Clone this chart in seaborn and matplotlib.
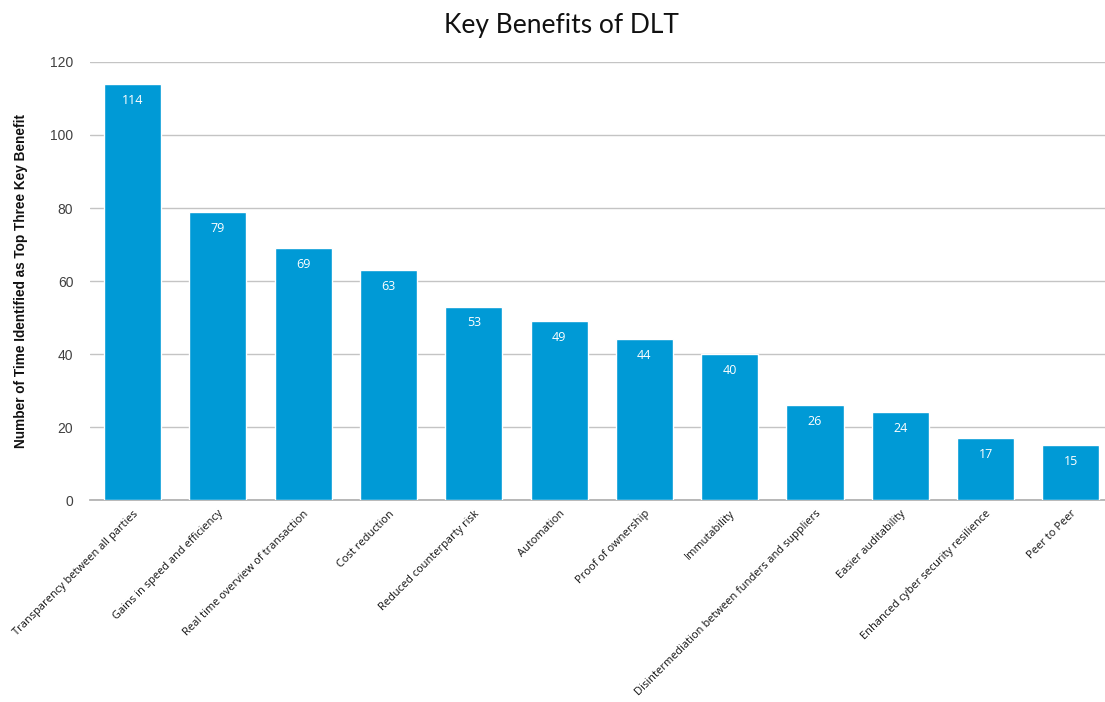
import numpy as np
import pandas as pd
import matplotlib
matplotlib.use("Agg")
import matplotlib.pyplot as plt
import seaborn as sns

benefits = [
    "Transparency between all parties",
    "Gains in speed and efficiency",
    "Real time overview of transaction",
    "Cost reduction",
    "Reduced counterparty risk",
    "Automation",
    "Proof of ownership",
    "Immutability",
    "Disintermediation between funders and suppliers",
    "Easier auditability",
    "Enhanced cyber security resilience",
    "Peer to Peer",
]
counts = [114, 79, 69, 63, 53, 49, 44, 40, 26, 24, 17, 15]
y_ticks = [0, 20, 40, 60, 80, 100, 120]

df = pd.DataFrame({"benefit": benefits, "count": counts})

sns.set_theme(style="white")
plt.rcParams["font.family"] = ["Liberation Sans", "DejaVu Sans"]

fig = plt.figure(figsize=(11.05, 7.02), dpi=100)
ax = fig.add_axes([0.0814, 0.2877, 0.9186, 0.624])

sns.barplot(data=df, x="benefit", y="count", color="#009ad6", width=0.67,
            saturation=1, ax=ax, zorder=3)

ax.set_xlim(-0.5, 11.4)
ax.set_ylim(0, 120)
ax.set_yticks(y_ticks)
ax.yaxis.grid(True, color="#c4c4c4", linewidth=1, zorder=0)
ax.tick_params(axis="y", length=0, pad=12, labelsize=10, labelcolor="#404040")
ax.tick_params(axis="x", length=0, pad=6)
for s in ["top", "right", "left"]:
    ax.spines[s].set_visible(False)
ax.spines["bottom"].set_color("#b0b0b0")

ax.set_xticks(range(len(benefits)))
ax.set_xticklabels(benefits, rotation=45, ha="right", rotation_mode="anchor",
                   fontsize=7.9, family=["Open Sans", "DejaVu Sans"], color="#111111")

for i, v in enumerate(counts):
    ax.text(i, v - 4.5, str(v), ha="center", va="center", color="white",
            fontsize=9, family=["Open Sans", "DejaVu Sans"])

ax.set_xlabel("")
ax.set_ylabel("Number of Time Identified as Top Three Key Benefit",
              fontsize=9.8, fontweight="bold", color="#111111", labelpad=16)

fig.suptitle("Key Benefits of DLT", x=0.508, y=0.982, fontsize=19,
             family=["Lato", "DejaVu Sans"], color="#111111")

fig.savefig("out.png", dpi=100)
